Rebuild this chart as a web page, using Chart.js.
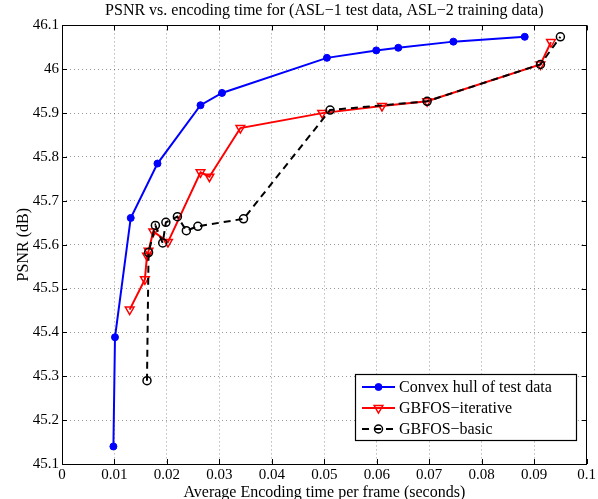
<!DOCTYPE html>
<html>
<head>
<meta charset="utf-8">
<script src="https://cdn.jsdelivr.net/npm/chart.js@4.4.1/dist/chart.umd.min.js"></script>
<style>
  html, body { margin: 0; padding: 0; background: #fff; }
  #wrap { width: 598px; height: 499px; }
</style>
</head>
<body>
<div id="wrap"><canvas id="c" width="598" height="499"></canvas></div>
<script>
// ---- data ----
const hullX = [0.0098, 0.0101, 0.0131, 0.0182, 0.0264, 0.0305, 0.0505, 0.0599, 0.0641, 0.0746, 0.0882];
const hullY = [45.140, 45.389, 45.661, 45.785, 45.918, 45.946, 46.026, 46.043, 46.049, 46.063, 46.074];

const iterX = [0.0129, 0.0158, 0.0162, 0.0165, 0.0174, 0.0202, 0.0264, 0.0281, 0.0340, 0.0496, 0.0610, 0.0696, 0.0912, 0.0932];
const iterY = [45.452, 45.521, 45.575, 45.586, 45.630, 45.606, 45.765, 45.755, 45.866, 45.900, 45.916, 45.927, 46.011, 46.062];

const basicX = [0.0162, 0.0165, 0.0178, 0.0192, 0.0198, 0.0220, 0.0237, 0.0259, 0.0346, 0.0511, 0.0696, 0.0912, 0.0950];
const basicY = [45.290, 45.582, 45.644, 45.604, 45.651, 45.664, 45.632, 45.642, 45.659, 45.907, 45.927, 46.011, 46.074];

const xTicks = [0, 0.01, 0.02, 0.03, 0.04, 0.05, 0.06, 0.07, 0.08, 0.09, 0.1];
const xTickLabels = ['0', '0.01', '0.02', '0.03', '0.04', '0.05', '0.06', '0.07', '0.08', '0.09', '0.1'];
const yTicks = [45.1, 45.2, 45.3, 45.4, 45.5, 45.6, 45.7, 45.8, 45.9, 46.0, 46.1];
const yTickLabels = ['45.1', '45.2', '45.3', '45.4', '45.5', '45.6', '45.7', '45.8', '45.9', '46', '46.1'];

const seriesNames = ['Convex hull of test data', 'GBFOS\u2212iterative', 'GBFOS\u2212basic'];
const titleText = 'PSNR vs. encoding time for (ASL\u22121 test data, ASL\u22122 training data)';
const xTitle = 'Average Encoding time per frame (seconds)';
const yTitle = 'PSNR (dB)';

const FONT = "'Liberation Serif', 'Times New Roman', serif";

function pts(xs, ys) { return xs.map((x, i) => ({ x: x, y: ys[i] })); }

function labelFor(ticks, labels, v) {
  for (let i = 0; i < ticks.length; i++) if (Math.abs(ticks[i] - v) < 1e-9) return labels[i];
  return '';
}

const datasets = [
  {
    label: seriesNames[0], data: pts(hullX, hullY),
    borderColor: '#0000ff', backgroundColor: '#0000ff', borderWidth: 2,
    pointStyle: 'circle', pointRadius: 3.5, pointBorderWidth: 1,
    pointBackgroundColor: '#0000ff', order: 2
  },
  {
    label: seriesNames[1], data: pts(iterX, iterY),
    borderColor: '#ff0000', backgroundColor: 'rgba(0,0,0,0)', borderWidth: 2,
    pointStyle: 'triangle', pointRotation: 180, pointRadius: 5, pointBorderWidth: 1.5,
    pointBackgroundColor: 'rgba(0,0,0,0)', order: 1
  },
  {
    label: seriesNames[2], data: pts(basicX, basicY),
    borderColor: '#000000', backgroundColor: 'rgba(0,0,0,0)', borderWidth: 2,
    borderDash: [7, 5],
    pointStyle: 'circle', pointRadius: 4, pointBorderWidth: 1.5,
    pointBackgroundColor: 'rgba(0,0,0,0)', order: 0
  }
];

// frame, inward ticks, and MATLAB-style legend
const framePlugin = {
  id: 'frame',
  afterDatasetsDraw(chart) {
    const ctx = chart.ctx;
    const a = chart.chartArea;
    const xs = chart.scales.x, ys = chart.scales.y;
    ctx.save();
    ctx.setLineDash([]);
    ctx.strokeStyle = '#000';
    ctx.lineWidth = 1;
    ctx.strokeRect(Math.round(a.left) + 0.5, Math.round(a.top) + 0.5,
                   Math.round(a.right - a.left) - 1, Math.round(a.bottom - a.top));
    const tl = 5;
    ctx.beginPath();
    xTicks.forEach(v => {
      const p = Math.round(xs.getPixelForValue(v)) + 0.5;
      ctx.moveTo(p, a.bottom); ctx.lineTo(p, a.bottom - tl);
      ctx.moveTo(p, a.top); ctx.lineTo(p, a.top + tl);
    });
    yTicks.forEach(v => {
      const p = Math.round(ys.getPixelForValue(v)) + 0.5;
      ctx.moveTo(a.left, p); ctx.lineTo(a.left + tl, p);
      ctx.moveTo(a.right, p); ctx.lineTo(a.right - tl, p);
    });
    ctx.stroke();

    // legend box (bottom-right, inside axes)
    const bw = 221, bh = 66;
    const bx = Math.round(a.right) - 11 - bw, by = Math.round(a.bottom) - 24 - bh;
    ctx.fillStyle = '#fff';
    ctx.fillRect(bx, by, bw, bh);
    ctx.lineWidth = 1.2;
    ctx.strokeRect(bx + 0.5, by + 0.5, bw, bh);
    ctx.font = '16px ' + FONT;
    ctx.textBaseline = 'middle';
    ctx.textAlign = 'left';
    const rows = [13, 34, 55];
    chart.data.datasets.forEach((ds, i) => {
      const y = by + rows[i];
      const x0 = bx + 7, x1 = bx + 40, xm = (x0 + x1) / 2;
      ctx.save();
      ctx.strokeStyle = ds.borderColor;
      ctx.lineWidth = 2;
      ctx.setLineDash(ds.borderDash || []);
      ctx.beginPath(); ctx.moveTo(x0, y); ctx.lineTo(x1, y); ctx.stroke();
      ctx.setLineDash([]);
      ctx.fillStyle = ds.pointBackgroundColor;
      ctx.lineWidth = ds.pointBorderWidth;
      Chart.helpers.drawPoint(ctx, {
        pointStyle: ds.pointStyle, rotation: ds.pointRotation || 0,
        radius: ds.pointRadius, borderWidth: ds.pointBorderWidth
      }, xm, y);
      ctx.restore();
      ctx.fillStyle = '#000';
      ctx.fillText(ds.label, bx + 44, y + 1);
    });
    ctx.restore();
  }
};

const bgPlugin = {
  id: 'bg',
  beforeDraw(chart) {
    const ctx = chart.ctx;
    ctx.save();
    ctx.fillStyle = '#fff';
    ctx.fillRect(0, 0, chart.width, chart.height);
    ctx.restore();
  }
};

new Chart(document.getElementById('c'), {
  type: 'line',
  data: { datasets: datasets },
  plugins: [bgPlugin, framePlugin],
  options: {
    responsive: false,
    devicePixelRatio: 1,
    animation: false,
    layout: { padding: { left: 0, right: 10, top: 0, bottom: 0 } },
    plugins: {
      legend: { display: false },
      tooltip: { enabled: false },
      title: {
        display: true, text: titleText, fullSize: false,
        color: '#000', font: { family: FONT, size: 16, weight: 'normal', lineHeight: 1.15 },
        padding: { top: 2, bottom: 5 }
      }
    },
    scales: {
      x: {
        type: 'linear', min: 0, max: 0.1,
        afterBuildTicks(s) { s.ticks = xTicks.map(v => ({ value: v })); },
        afterFit(s) { s.height = 35; },
        ticks: {
          color: '#000', font: { family: FONT, size: 15 }, padding: 2,
          maxRotation: 0, autoSkip: false,
          callback: v => labelFor(xTicks, xTickLabels, v)
        },
        grid: { color: 'rgba(0,0,0,0.4)', lineWidth: 1, drawTicks: false },
        border: { display: false, dash: [1, 3] },
        title: {
          display: true, text: xTitle, color: '#000',
          font: { family: FONT, size: 16 }, padding: { top: 0, bottom: -3 }
        }
      },
      y: {
        type: 'linear', min: 45.1, max: 46.1,
        afterBuildTicks(s) { s.ticks = yTicks.map(v => ({ value: v })); },
        afterFit(s) { s.width = 62; },
        ticks: {
          color: '#000', font: { family: FONT, size: 15 }, padding: 3,
          autoSkip: false,
          callback: v => labelFor(yTicks, yTickLabels, v)
        },
        grid: { color: 'rgba(0,0,0,0.4)', lineWidth: 1, drawTicks: false },
        border: { display: false, dash: [1, 3] },
        title: {
          display: true, text: yTitle, color: '#000',
          font: { family: FONT, size: 16 }, padding: { top: 14, bottom: 0 }
        }
      }
    }
  }
});
</script>
</body>
</html>
